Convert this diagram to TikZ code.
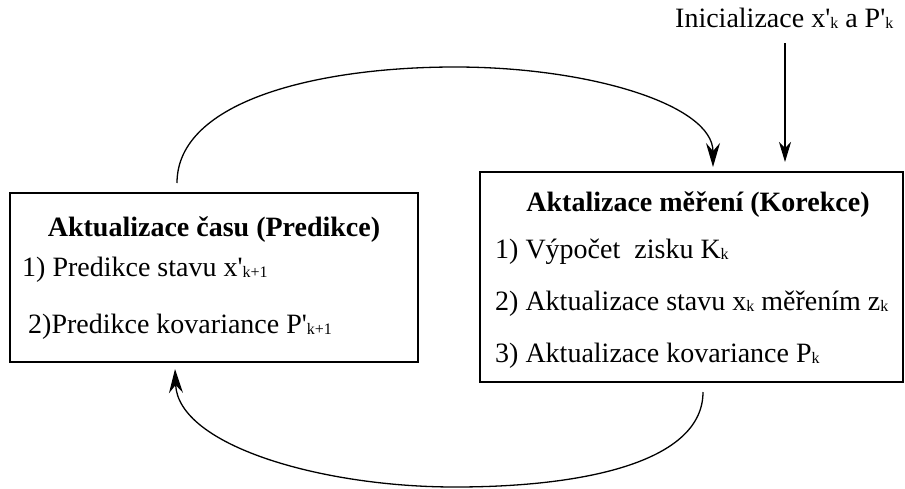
\documentclass[tikz,border=0pt]{standalone}
\usepackage{fontspec}
\setmainfont{Liberation Serif}[Ligatures=TeXOff]
\usetikzlibrary{arrows.meta}
% small lowered index, as used after the state symbols
\newcommand\idx[1]{\raisebox{-1.5pt}{\fontsize{16}{16}\selectfont #1}}
\begin{document}
\begin{tikzpicture}[x=1pt,y=-1pt,
  every node/.style={font=\fontsize{28}{34}\selectfont, inner sep=0pt},
  stagebox/.style={draw, line width=1.6pt, rectangle},
  flow/.style={line width=1.3pt, -{Stealth[length=24pt,width=14pt,inset=8pt]}},
  feed/.style={line width=1.1pt, -{Stealth[length=20pt,width=12pt,inset=6pt]}}]
\useasboundingbox (0,0) rectangle (905,488);

% the two stages of the filter
\node[stagebox, minimum width=408pt, minimum height=169pt] (pred) at (214,277.5) {};
\node[stagebox, minimum width=423pt, minimum height=210pt] (kor) at (691.5,277) {};

% time update
\node[anchor=base, font=\fontsize{28}{34}\selectfont\bfseries] (predT) at (214,236) {Aktualizace času (Predikce)};
\node[anchor=base west] (pred1) at (22,276) {1) Predikce stavu x'\idx{k+1}};
\node[anchor=base west] (pred2) at (28,333) {2)Predikce kovariance P'\idx{k+1}};

% measurement update
\node[anchor=base, font=\fontsize{28}{34}\selectfont\bfseries] (korT) at (698,211) {Aktalizace měření (Korekce)};
\node[anchor=base west] (kor1) at (495,258) {1) Výpočet\ \ zisku K\idx{k}};
\node[anchor=base west] (kor2) at (495,310) {2) Aktualizace stavu x\idx{k} měřením z\idx{k}};
\node[anchor=base west] (kor3) at (495,362) {3) Aktualizace kovariance P\idx{k}};

% initial values
\node[anchor=base west] (init) at (675,27) {Inicializace x'\idx{k} a P'\idx{k}};

% loose ends of the connectors
\coordinate (predTop) at (177,183);
\coordinate (korIn) at (713,167);
\coordinate (korBot) at (703,392);
\coordinate (predIn) at (175,369);
\coordinate (initIn) at (785,162);
\coordinate (initOut) at (785,43);
\coordinate (topPeak) at (455,67);
\coordinate (botLow) at (455,487);

% prediction -> correction
\draw[flow] (predTop) .. controls (177,100) and (320,67) .. (topPeak)
                      .. controls (590,67) and (713,105) .. (korIn);
% correction -> prediction
\draw[flow] (korBot) .. controls (703,460) and (590,487) .. (botLow)
                     .. controls (320,487) and (178,445) .. (predIn);
% initialisation
\draw[feed] (initOut) -- (initIn);
\end{tikzpicture}
\end{document}
